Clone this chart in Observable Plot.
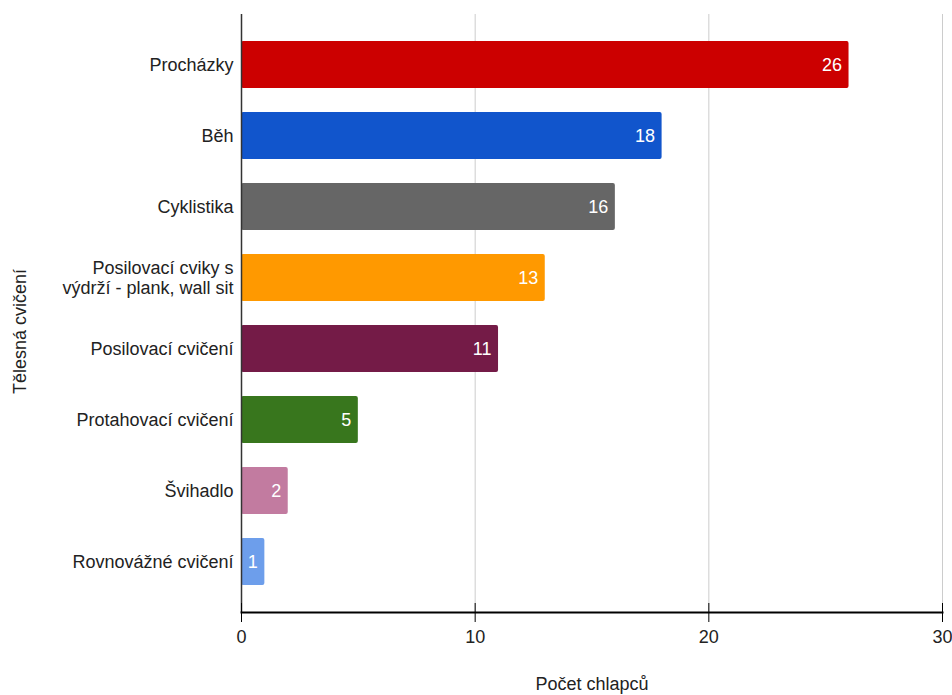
<!DOCTYPE html>
<html><head><meta charset="utf-8">
<script src="https://cdn.jsdelivr.net/npm/d3@7"></script>
<script src="https://cdn.jsdelivr.net/npm/@observablehq/plot@0.6"></script>
<style>body{margin:0;background:#fff}</style>
</head><body><div id="chart"></div>
<script>
const categories = ["Procházky","Běh","Cyklistika","Posilovací cviky s\nvýdrží - plank, wall sit","Posilovací cvičení","Protahovací cvičení","Švihadlo","Rovnovážné cvičení"];
const values = [26,18,16,13,11,5,2,1];
const colors = ["#cc0000","#1155cc","#666666","#ff9900","#741b47","#38761d","#c27ba0","#6d9eeb"];
const xTicks = [0,10,20,30];
const xTitle = "Počet chlapců";
const yTitle = "Tělesná cvičení";
const data = categories.map((c,i)=>({category:c, value:values[i], color:colors[i]}));
const FONT = "'Liberation Sans', Arial, sans-serif";
const chart = Plot.plot({
  width:952, height:695, marginLeft:241, marginRight:10, marginTop:14, marginBottom:83,
  style:{fontFamily:FONT, fontSize:"18px", color:"#222", background:"#fff"},
  x:{domain:[0,30], label:null},
  y:{domain:categories, padding:0.345, label:null},
  marks:[
    Plot.gridX(xTicks.slice(1), {stroke:"#cccccc", strokeOpacity:1}),
    Plot.barX(data, {y:"category", x:"value", fill:"color", rx:2}),
    Plot.text(data, {y:"category", x:"value", text:d=>String(d.value), textAnchor:"end", dx:-7, fill:"white", fontSize:18}),
    Plot.ruleX([0], {stroke:"#333", strokeWidth:1.5}),
    Plot.ruleX(xTicks, {stroke:"black", insetTop:589}),
    Plot.frame({anchor:"bottom", stroke:"black", strokeWidth:2}),
    Plot.axisX(xTicks, {tickSize:10, tickPadding:8, fontSize:18, fill:"#222", stroke:"black", label:null}),
    Plot.axisY({tickSize:0, tickPadding:8, fontSize:18, fill:"#222", lineHeight:1.1, label:null}),
    Plot.text([yTitle], {frameAnchor:"left", dx:-221, dy:18, rotate:-90, textAnchor:"middle", lineAnchor:"middle", fontSize:18, fill:"#222"}),
    Plot.text([xTitle], {frameAnchor:"bottom", dy:72, textAnchor:"middle", lineAnchor:"middle", fontSize:18, fill:"#222"})
  ]
});
document.getElementById("chart").append(chart);
</script>
</body></html>
